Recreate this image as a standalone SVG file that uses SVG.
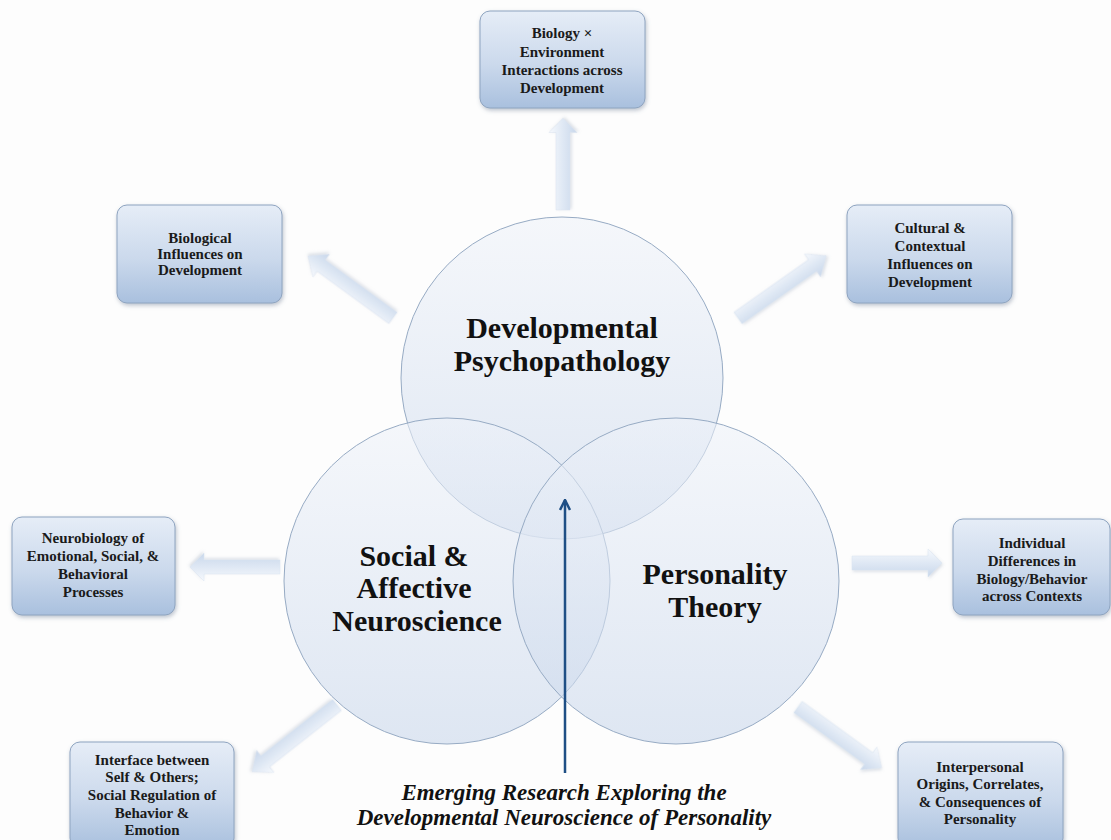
<svg xmlns="http://www.w3.org/2000/svg" width="1111" height="840" viewBox="0 0 1111 840">
<defs>
<linearGradient id="boxg" x1="0" y1="0" x2="0" y2="1">
<stop offset="0" stop-color="#e6edf7"/>
<stop offset="0.55" stop-color="#cbd9ec"/>
<stop offset="1" stop-color="#a9c0de"/>
</linearGradient>
<linearGradient id="circg" x1="0" y1="0" x2="0" y2="1">
<stop offset="0" stop-color="#eef2f9" stop-opacity="0.55"/>
<stop offset="1" stop-color="#c9d7eb" stop-opacity="0.6"/>
</linearGradient>
<linearGradient id="arrg" x1="0" y1="0" x2="0" y2="1">
<stop offset="0" stop-color="#f6f9fd"/>
<stop offset="1" stop-color="#c8d7eb"/>
</linearGradient>
<filter id="sh" x="-10%" y="-10%" width="125%" height="130%">
<feDropShadow dx="1" dy="2" stdDeviation="2" flood-color="#6b7c94" flood-opacity="0.45"/>
</filter>
<filter id="sh2" x="-10%" y="-30%" width="125%" height="160%">
<feDropShadow dx="1" dy="1.5" stdDeviation="1.5" flood-color="#8a9ab0" flood-opacity="0.3"/>
</filter>
<marker id="ah" viewBox="0 0 10 10" refX="9" refY="5" markerWidth="5" markerHeight="5" orient="auto">
<path d="M1,1 L9,5 L1,9" fill="none" stroke="#1f4f85" stroke-width="2"/>
</marker>
<path id="blk" d="M0,-7 L76,-7 L76,-14 L90,0 L76,14 L76,7 L0,7 Z"/>
</defs>
<style>
.box{fill:url(#boxg);stroke:#8ea4c0;stroke-width:1;filter:url(#sh)}
.bt{font-family:"Liberation Serif","DejaVu Serif",serif;font-weight:bold;font-size:15px;fill:#1a1a1a;text-anchor:middle}
.circ{fill:url(#circg);stroke:#97abc4;stroke-width:1}
.ct{font-family:"Liberation Serif","DejaVu Serif",serif;font-weight:bold;font-size:30px;fill:#111;text-anchor:middle}
.arr{fill:url(#arrg);stroke:#dbe4f0;stroke-width:0.5;filter:url(#sh2)}
.it{font-family:"Liberation Serif","DejaVu Serif",serif;font-weight:bold;font-style:italic;font-size:23px;fill:#111;text-anchor:middle}
</style>
<rect width="1111" height="840" fill="#fdfdfd"/>

<g id="connectors">
<use href="#blk" class="arr" transform="translate(563,210) rotate(-90) scale(1.02,1)"/>
<use href="#blk" class="arr" transform="translate(393,318) rotate(-143.9) scale(1.17,1)"/>
<use href="#blk" class="arr" transform="translate(738,318) rotate(-35.2) scale(1.2,1)"/>
<use href="#blk" class="arr" transform="translate(280,567) rotate(180)"/>
<use href="#blk" class="arr" transform="translate(852,563)"/>
<use href="#blk" class="arr" transform="translate(337,705) rotate(141.8) scale(1.2,1)"/>
<use href="#blk" class="arr" transform="translate(798,707) rotate(36) scale(1.15,1)"/>
</g>

<g id="circles">
<g id="n-devpsy">
<circle class="circ" cx="562" cy="378" r="161"/>
</g>
<g id="n-social">
<circle class="circ" cx="447" cy="581" r="163"/>
</g>
<g id="n-personality">
<circle class="circ" cx="676" cy="581" r="163"/>
</g>
</g>

<g id="circle-labels">
<text class="ct" x="562" y="338">Developmental</text>
<text class="ct" x="562" y="371">Psychopathology</text>
<text class="ct" x="414" y="566">Social &amp;</text>
<text class="ct" x="414" y="598">Affective</text>
<text class="ct" x="417" y="631">Neuroscience</text>
<text class="ct" x="715" y="584">Personality</text>
<text class="ct" x="715" y="617">Theory</text>
</g>

<g id="center-arrow">
<line x1="565" y1="773" x2="565" y2="500" stroke="#1f4f85" stroke-width="2.5" marker-end="url(#ah)"/>
</g>

<g id="n-bxe">
<rect class="box" x="480" y="11" width="165" height="97" rx="10"/>
<text class="bt" x="562" y="38">Biology ×</text>
<text class="bt" x="562" y="57">Environment</text>
<text class="bt" x="562" y="75">Interactions across</text>
<text class="bt" x="562" y="93">Development</text>
</g>
<g id="n-bio">
<rect class="box" x="117" y="205" width="165" height="98" rx="10"/>
<text class="bt" x="200" y="243">Biological</text>
<text class="bt" x="200" y="259">Influences on</text>
<text class="bt" x="200" y="275">Development</text>
</g>
<g id="n-cult">
<rect class="box" x="847" y="205" width="165" height="98" rx="10"/>
<text class="bt" x="930" y="233">Cultural &amp;</text>
<text class="bt" x="930" y="251">Contextual</text>
<text class="bt" x="930" y="269">Influences on</text>
<text class="bt" x="930" y="287">Development</text>
</g>
<g id="n-neuro">
<rect class="box" x="12" y="517" width="163" height="98" rx="10"/>
<text class="bt" x="93" y="543">Neurobiology of</text>
<text class="bt" x="93" y="561">Emotional, Social, &amp;</text>
<text class="bt" x="93" y="579">Behavioral</text>
<text class="bt" x="93" y="597">Processes</text>
</g>
<g id="n-indiv">
<rect class="box" x="953" y="519" width="157" height="96" rx="10"/>
<text class="bt" x="1032" y="548">Individual</text>
<text class="bt" x="1032" y="566">Differences in</text>
<text class="bt" x="1032" y="584">Biology/Behavior</text>
<text class="bt" x="1032" y="601">across Contexts</text>
</g>
<g id="n-interface">
<rect class="box" x="70" y="742" width="164" height="106" rx="10"/>
<text class="bt" x="152" y="765">Interface between</text>
<text class="bt" x="152" y="782">Self &amp; Others;</text>
<text class="bt" x="152" y="800">Social Regulation of</text>
<text class="bt" x="152" y="818">Behavior &amp;</text>
<text class="bt" x="152" y="835">Emotion</text>
</g>
<g id="n-interp">
<rect class="box" x="898" y="742" width="165" height="106" rx="10"/>
<text class="bt" x="980" y="772">Interpersonal</text>
<text class="bt" x="980" y="789">Origins, Correlates,</text>
<text class="bt" x="980" y="807">&amp; Consequences of</text>
<text class="bt" x="980" y="824">Personality</text>
</g>

<g id="caption">
<text class="it" x="564" y="800">Emerging Research Exploring the</text>
<text class="it" x="564" y="825">Developmental Neuroscience of Personality</text>
</g>
</svg>
